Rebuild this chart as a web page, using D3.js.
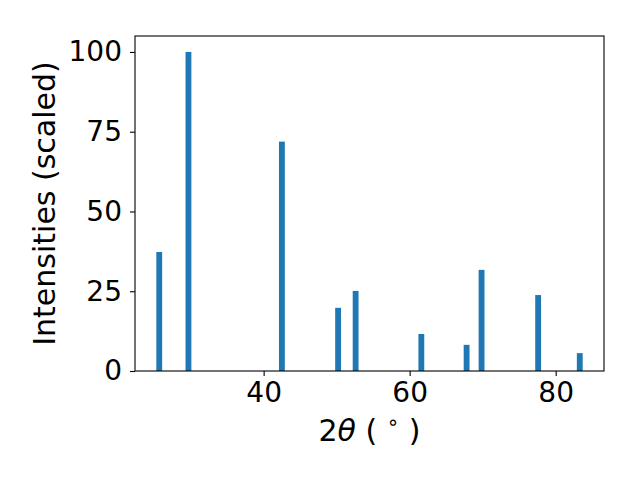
<!DOCTYPE html>
<html>
<head>
<meta charset="utf-8">
<script src="https://cdn.jsdelivr.net/npm/d3@7"></script>
<style>
  body { margin: 0; background: #fff; }
  text { font-family: "DejaVu Sans", sans-serif; fill: #000; }
</style>
</head>
<body>
<div id="vis"></div>
<script>
// peak positions (2theta, degrees) and scaled intensities
var peaks = [25.7, 29.7, 42.5, 50.2, 52.6, 61.6, 67.8, 69.85, 77.6, 83.3];
var intensities = [37.3, 100, 71.9, 19.8, 25.1, 11.6, 8.2, 31.7, 23.8, 5.6];
var xTicks = [40, 60, 80];
var yTicks = [0, 25, 50, 75, 100];
var barWidth = 0.8;

var margin = {top: 36, right: 36, bottom: 109, left: 135},
    width = 640 - margin.left - margin.right,
    height = 480 - margin.top - margin.bottom;

var svg = d3.select("#vis")
    .append("svg")
    .attr("width", 640)
    .attr("height", 480);

var g = svg.append("g")
    .attr("transform", "translate(" + margin.left + "," + margin.top + ")");

// matplotlib-ish 5% margins
var xmin = d3.min(peaks) - barWidth / 2,
    xmax = d3.max(peaks) + barWidth / 2,
    pad = (xmax - xmin) * 0.05;

var x = d3.scaleLinear()
    .domain([xmin - pad, xmax + pad])
    .range([0, width]);

var y = d3.scaleLinear()
    .domain([0, 105])
    .range([height, 0]);

////////// bars //////////
g.selectAll("rect.bar")
    .data(peaks)
    .enter()
    .append("rect")
    .attr("class", "bar")
    .attr("x", function (d) { return x(d - barWidth / 2); })
    .attr("width", function (d) { return x(d + barWidth / 2) - x(d - barWidth / 2); })
    .attr("y", function (d, i) { return y(intensities[i]); })
    .attr("height", function (d, i) { return y(0) - y(intensities[i]); })
    .attr("fill", "#1f77b4");

////////// axes //////////
var xAxis = g.append("g")
    .attr("transform", "translate(0," + height + ")")
    .call(d3.axisBottom(x).tickValues(xTicks).tickSize(5).tickPadding(6));

var yAxis = g.append("g")
    .call(d3.axisLeft(y).tickValues(yTicks).tickSize(5).tickPadding(8));

[xAxis, yAxis].forEach(function (a) {
    a.select(".domain").remove();
    a.selectAll("line").attr("stroke", "#000").attr("stroke-width", 1.1);
    a.selectAll("text")
        .style("font-family", "DejaVu Sans")
        .style("font-size", "28px")
        .attr("fill", "#000");
});

// frame
g.append("rect")
    .attr("x", 0)
    .attr("y", 0)
    .attr("width", width)
    .attr("height", height)
    .attr("fill", "none")
    .attr("stroke", "#000")
    .attr("stroke-width", 1.1);

////////// labels //////////
var xl = svg.append("text")
    .attr("x", margin.left + width / 2)
    .attr("y", 441)
    .attr("text-anchor", "middle")
    .style("font-size", "30px");
xl.append("tspan").text("2");
xl.append("tspan").style("font-style", "italic").text("θ");
xl.append("tspan").text(" ( ");
xl.append("tspan").attr("dy", -12).style("font-size", "20px").text("∘");
xl.append("tspan").attr("dy", 12).text(" )");

svg.append("text")
    .attr("transform", "translate(55," + (margin.top + height / 2) + ") rotate(-90)")
    .attr("text-anchor", "middle")
    .style("font-size", "30px")
    .text("Intensities (scaled)");
</script>
</body>
</html>
